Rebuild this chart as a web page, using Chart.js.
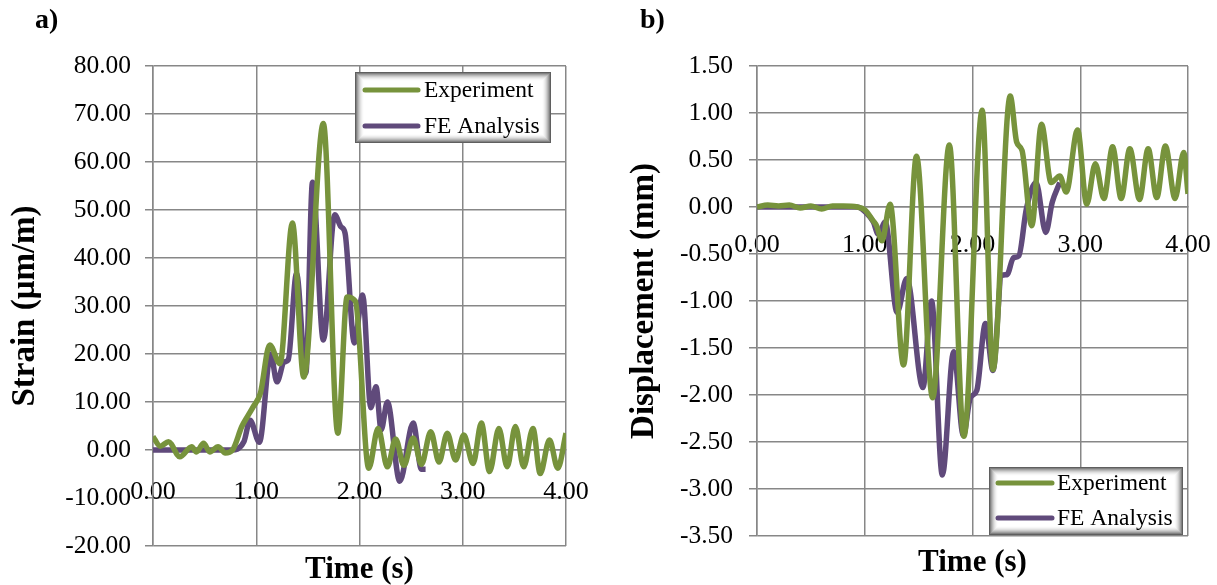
<!DOCTYPE html>
<html>
<head>
<meta charset="utf-8">
<script src="https://cdn.jsdelivr.net/npm/chart.js@4.4.1/dist/chart.umd.min.js"></script>
<style>
  body { margin: 0; background: #fff; width: 1217px; height: 585px; overflow: hidden; position: relative; }
  .panel { position: absolute; top: 0; height: 585px; }
  #wrapA { left: 0; width: 600px; }
  #wrapB { left: 600px; width: 617px; }
  .tag { position: absolute; top: 5px; font: bold 28px 'Liberation Serif', serif; line-height: 1; color: #000; }
</style>
</head>
<body>
<div class="panel" id="wrapA"><canvas id="strainChart" width="600" height="585"></canvas></div>
<div class="panel" id="wrapB"><canvas id="dispChart" width="617" height="585"></canvas></div>
<div class="tag" style="left:35px">a)</div>
<div class="tag" style="left:640px">b)</div>
<script>
// a) strain
const strainExpTime = [0, 0.07, 0.15, 0.26, 0.375, 0.42, 0.49, 0.55, 0.63, 0.70, 0.77, 0.86, 0.91, 0.97, 1.04, 1.13, 1.23, 1.35, 1.46, 1.65, 1.79, 1.88, 1.96, 2.09, 2.18, 2.27, 2.35, 2.43, 2.52, 2.60, 2.69, 2.77, 2.85, 2.93, 3.01, 3.10, 3.18, 3.26, 3.35, 3.43, 3.51, 3.59, 3.68, 3.75, 3.84, 3.92, 4.00];
const strainExp = [2.8, 0.8, 1.7, -1.4, 0.7, -0.4, 1.4, -0.4, 0.7, -0.6, 0.0, 4.9, 6.8, 9.0, 11.8, 21.9, 18.0, 47.3, 15.2, 68.0, 3.5, 31.9, 31.0, -3.8, 4.5, -3.5, 2.3, -3.2, 2.5, -3.0, 3.8, -2.5, 3.5, -2.1, 3.1, -2.8, 5.6, -4.5, 4.5, -3.5, 4.9, -3.5, 4.5, -4.9, 2.1, -3.8, 3.5];
const strainFeTime = [0, 0.76, 0.88, 0.94, 1.03, 1.14, 1.20, 1.27, 1.31, 1.39, 1.48, 1.545, 1.65, 1.76, 1.82, 1.86, 1.95, 2.03, 2.11, 2.16, 2.21, 2.27, 2.39, 2.52, 2.60, 2.64];
const strainFe = [0, 0, 1.7, 6.2, 1.6, 20.0, 14.2, 18.3, 18.8, 36.8, 16.0, 55.8, 22.9, 49.0, 46.5, 45.2, 22.3, 32.3, 8.8, 13.2, 4.2, 10.0, -6.5, 5.6, -4.0, -4.0];
const strainTicks = [-20, -10, 0, 10, 20, 30, 40, 50, 60, 70, 80];

// b) displacement
const dispExpTime = [0, 0.1, 0.2, 0.3, 0.4, 0.5, 0.6, 0.7, 0.8, 0.93, 1.0, 1.08, 1.11, 1.16, 1.235, 1.36, 1.48, 1.63, 1.785, 1.92, 2.09, 2.19, 2.35, 2.41, 2.46, 2.55, 2.64, 2.73, 2.81, 2.87, 2.975, 3.06, 3.14, 3.22, 3.30, 3.38, 3.46, 3.55, 3.63, 3.71, 3.79, 3.88, 3.96, 4.00];
const dispExp = [0.0, 0.02, 0.01, 0.02, -0.01, 0.01, -0.02, 0.01, 0.01, 0.0, -0.03, -0.15, -0.2, -0.36, 0.03, -1.68, 0.54, -2.03, 0.66, -2.44, 1.03, -1.73, 1.18, 0.69, 0.6, -0.2, 0.88, 0.26, 0.33, 0.16, 0.82, 0.03, 0.46, 0.09, 0.64, 0.09, 0.62, 0.08, 0.62, 0.10, 0.65, 0.09, 0.58, 0.14];
const dispFeTime = [0, 0.93, 1.02, 1.08, 1.126, 1.19, 1.30, 1.39, 1.54, 1.62, 1.72, 1.825, 1.915, 1.98, 2.04, 2.12, 2.19, 2.27, 2.32, 2.38, 2.43, 2.50, 2.59, 2.68, 2.74, 2.81];
const dispFe = [0, 0, -0.07, -0.16, -0.29, -0.16, -1.12, -0.76, -1.92, -1.0, -2.85, -1.54, -2.43, -2.03, -1.95, -1.24, -1.74, -0.73, -0.72, -0.54, -0.52, -0.02, 0.26, -0.27, 0.05, 0.26];
const dispTicks = [-3.5, -3.0, -2.5, -2.0, -1.5, -1.0, -0.5, 0, 0.5, 1.0, 1.5];

const timeTicks = [0, 1, 2, 3, 4];
const seriesNames = ['Experiment', 'FE Analysis'];

const GREEN = '#77933C';
const PURPLE = '#604A7B';
const GRID = '#878787';
const FONT = "'Liberation Serif', 'Times New Roman', serif";

function pairs(xs, ys) {
    return xs.map((x, i) => ({x: x, y: ys[i]}));
}

// framed legend with soft inner shadow, like the office one
const boxLegend = {
    id: 'boxLegend',
    afterDraw(chart, args, o) {
        const ctx = chart.ctx;
        ctx.save();
        ctx.fillStyle = '#fff';
        ctx.fillRect(o.x, o.y, o.w, o.h);
        for (let i = 0; i < 9; i++) {
            const a = 0.8 * Math.pow(1 - i / 9, 2);
            ctx.strokeStyle = 'rgba(55,55,55,' + a + ')';
            ctx.lineWidth = 1;
            ctx.strokeRect(o.x + i + 0.5, o.y + i + 0.5, o.w - 2 * i - 1, o.h - 2 * i - 1);
        }
        chart.data.datasets.forEach((ds, i) => {
            const ry = o.y + o.rows[i];
            ctx.strokeStyle = ds.borderColor;
            ctx.lineWidth = 5;
            ctx.lineCap = 'round';
            ctx.beginPath();
            ctx.moveTo(o.x + o.lineStart, ry);
            ctx.lineTo(o.x + o.lineEnd, ry);
            ctx.stroke();
            ctx.fillStyle = '#000';
            ctx.font = '23.5px ' + FONT;
            ctx.textBaseline = 'middle';
            ctx.fillText(ds.label, o.x + o.textX, ry + 1);
        });
        ctx.restore();
    }
};

function buildChart(id, c) {
    return new Chart(document.getElementById(id), {
        type: 'line',
        data: {
            datasets: [
                {label: seriesNames[0], data: c.exp, borderColor: GREEN, borderWidth: 5.5, pointRadius: 0, cubicInterpolationMode: 'monotone', fill: false},
                {label: seriesNames[1], data: c.fe, borderColor: PURPLE, borderWidth: 5.5, pointRadius: 0, cubicInterpolationMode: 'monotone', fill: false}
            ]
        },
        options: {
            responsive: false,
            animation: false,
            layout: {padding: c.pad},
            plugins: {
                legend: {display: false},
                tooltip: {enabled: false},
                title: {
                    display: true,
                    text: 'Time (s)',
                    position: 'bottom',
                    fullSize: false,
                    color: '#000',
                    font: {family: FONT, size: 31, weight: 'bold', lineHeight: 1},
                    padding: c.titlePad
                },
                boxLegend: c.legend
            },
            scales: {
                x: {
                    type: 'linear',
                    min: 0,
                    max: 4,
                    position: {y: 0},
                    afterBuildTicks: s => { s.ticks = timeTicks.map(v => ({value: v})); },
                    afterFit: s => { s.height = 0; },
                    ticks: {
                        padding: 0,
                        color: '#000',
                        font: {family: FONT, size: 26},
                        maxRotation: 0,
                        autoSkip: false,
                        callback: v => Number(v).toFixed(2)
                    },
                    // invisible tick marks only push the labels below the zero line
                    grid: {color: GRID, lineWidth: 1.5, tickLength: c.xLabelPad, tickColor: 'rgba(0,0,0,0)'},
                    border: {color: GRID, width: 1.5}
                },
                y: {
                    min: c.yTicks[0],
                    max: c.yTicks[c.yTicks.length - 1],
                    position: 'left',
                    afterBuildTicks: s => { s.ticks = c.yTicks.map(v => ({value: v})); },
                    afterFit: s => { s.width = c.yWidth; },
                    ticks: {
                        padding: c.yLabelPad,
                        color: '#000',
                        font: {family: FONT, size: 25.5},
                        callback: v => Number(v).toFixed(2)
                    },
                    grid: {color: GRID, lineWidth: 1.5, tickLength: 8},
                    border: {color: GRID, width: 1.5},
                    title: {
                        display: true,
                        text: c.yTitle,
                        color: '#000',
                        font: {family: FONT, size: 33, weight: 'bold'},
                        padding: {top: c.yTitlePad, bottom: 0}
                    }
                }
            }
        },
        plugins: [boxLegend]
    });
}

buildChart('strainChart', {
    exp: pairs(strainExpTime, strainExp),
    fe: pairs(strainFeTime, strainFe),
    yTicks: strainTicks,
    yTitle: 'Strain (μm/m)',
    yWidth: 153,
    yLabelPad: 14,
    yTitlePad: 6,
    xLabelPad: 27,
    pad: {top: 66, right: 34, left: 0, bottom: 0},
    titlePad: {top: 8, bottom: 0},
    legend: {x: 355, y: 72, w: 196, h: 71, rows: [18, 54], lineStart: 10, lineEnd: 63, textX: 69}
});

buildChart('dispChart', {
    exp: pairs(dispExpTime, dispExp),
    fe: pairs(dispFeTime, dispFe),
    yTicks: dispTicks,
    yTitle: 'Displacement (mm)',
    yWidth: 157,
    yLabelPad: 16,
    yTitlePad: 25,
    xLabelPad: 23,
    pad: {top: 66, right: 29, left: 0, bottom: 0},
    titlePad: {top: 11, bottom: 7},
    legend: {x: 389, y: 467, w: 194, h: 68, rows: [16, 51], lineStart: 9, lineEnd: 63, textX: 68}
});
</script>
</body>
</html>
